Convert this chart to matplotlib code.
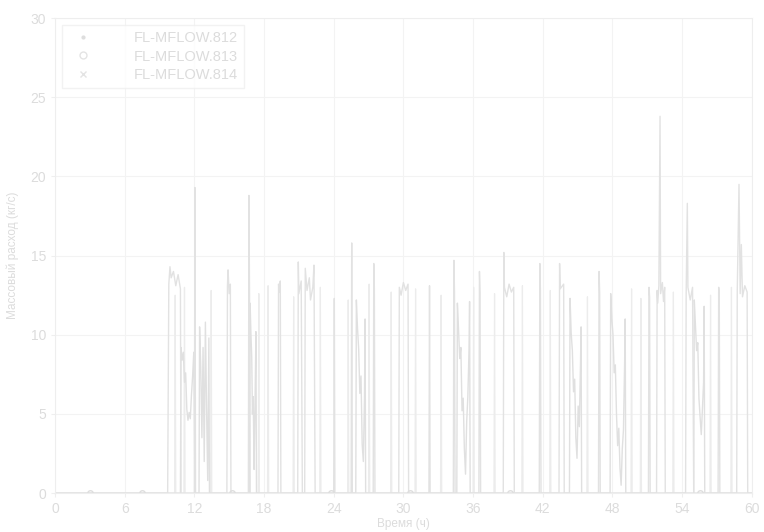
import numpy as np
import matplotlib
matplotlib.use("Agg")
import matplotlib.pyplot as plt
from matplotlib.lines import Line2D

plt.rcParams['font.family'] = ['Liberation Sans', 'DejaVu Sans']

# FL-MFLOW.812: основные партии, плато ~13 кг/с
t812 = [0, 3.0, 6.0, 9.7, 9.8, 9.9, 10.0, 10.2, 10.4, 10.6, 10.8, 10.85,
        12.0, 12.05, 12.1, 14.8, 14.85, 14.9, 15.0, 15.1, 15.15,
        16.65, 16.7, 16.75, 16.8, 19.2, 19.25, 19.3, 19.4, 19.45,
        20.9, 20.95, 21.0, 21.2, 21.3, 21.5, 21.55, 21.7, 21.9, 22.0, 22.2, 22.3, 22.4,
        24.0, 24.05, 24.1, 25.5, 25.55, 25.6, 27.4, 27.45, 27.5, 27.55,
        29.6, 29.65, 29.8, 30.0, 30.2, 30.4, 30.45, 32.2, 32.25, 32.3,
        34.3, 34.35, 34.4, 34.45, 36.5, 36.55, 36.6, 36.65,
        38.6, 38.65, 38.7, 38.9, 39.1, 39.3, 39.5, 39.55,
        41.7, 41.75, 41.8, 41.85, 43.4, 43.45, 43.5, 43.8, 43.85,
        46.8, 46.85, 46.9, 46.95, 51.1, 51.15, 51.2, 51.25,
        51.8, 51.85, 51.9, 52.0, 52.1, 52.15, 52.3, 52.4, 52.5, 52.55,
        54.3, 54.35, 54.45, 54.5, 54.7, 54.9, 55.0, 57.1, 57.15, 57.2, 57.25,
        58.7, 58.75, 58.9, 59.0, 59.1, 59.2, 59.4, 59.6, 59.65, 60]
v812 = [0, 0, 0, 0, 13.2, 14.3, 13.6, 14.0, 13.1, 13.8, 12.9, 0,
        0, 19.3, 0, 0, 13.1, 14.1, 12.6, 13.2, 0,
        0, 18.8, 12.5, 0, 0, 13.2, 12.7, 13.4, 0,
        0, 14.6, 12.6, 13.4, 0, 0, 14.2, 12.8, 13.6, 12.2, 13.0, 14.4, 0,
        0, 12.3, 0, 0, 15.8, 0, 0, 14.5, 12.9, 0,
        0, 13.0, 12.5, 13.3, 12.8, 13.2, 0, 0, 13.1, 0,
        0, 14.7, 12.7, 0, 0, 14.0, 12.6, 0,
        0, 15.2, 13.0, 12.4, 13.2, 12.7, 13.0, 0,
        0, 14.5, 12.8, 0, 0, 14.5, 12.9, 13.2, 0,
        0, 14.0, 12.6, 0, 0, 13.0, 12.4, 0,
        0, 12.8, 12.0, 13.1, 23.8, 12.6, 13.3, 12.1, 13.0, 0,
        0, 12.6, 18.3, 13.0, 12.2, 13.0, 0, 0, 13.0, 12.5, 0,
        0, 12.8, 19.5, 12.6, 15.7, 12.4, 13.1, 12.7, 0, 0]

# FL-MFLOW.813: партии со спадом расхода
t813 = [0, 7.5, 10.8, 10.85, 10.95, 11.05, 11.15, 11.25, 11.35, 11.45, 11.55, 11.65,
        11.75, 11.85, 11.95, 12.05,
        12.4, 12.45, 12.55, 12.65, 12.75, 12.85, 12.95, 13.05, 13.15, 13.25, 13.3,
        16.75, 16.8, 16.87, 16.94, 17.0, 17.07, 17.14, 17.2, 17.27, 17.3, 17.35,
        23.8, 25.9, 25.95, 26.05, 26.15, 26.25, 26.35, 26.45, 26.55, 26.65, 26.7, 26.75,
        30.6, 34.6, 34.65, 34.75, 34.85, 34.95, 35.05, 35.15, 35.25, 35.35, 35.45,
        35.55, 35.65, 35.7, 35.75,
        39.2, 44.3, 44.35, 44.45, 44.55, 44.65, 44.75, 44.85, 44.95, 45.05, 45.15,
        45.25, 45.3, 45.35,
        47.8, 47.85, 47.95, 48.05, 48.15, 48.25, 48.35, 48.45, 48.55, 48.65, 48.75,
        48.85, 48.95, 49.05, 49.1, 49.15,
        55.0, 55.05, 55.15, 55.25, 55.35, 55.45, 55.55, 55.65, 55.75, 55.85, 55.9, 55.95, 60]
v813 = [0, 0, 0, 9.2, 8.4, 8.9, 7.0, 7.6, 5.3, 4.6, 5.1, 4.7,
        6.2, 7.4, 8.9, 0,
        0, 10.5, 8.0, 3.5, 9.2, 2.0, 10.8, 5.4, 0.8, 9.8, 0,
        0, 12.0, 10.1, 8.6, 5.0, 6.1, 1.5, 4.4, 8.2, 10.2, 0,
        0, 0, 12.2, 10.4, 9.1, 6.3, 7.4, 3.1, 2.0, 6.0, 11.0, 0,
        0, 0, 12.0, 10.3, 8.5, 9.2, 5.2, 6.0, 2.8, 1.2, 4.5,
        6.1, 9.0, 12.1, 0,
        0, 0, 12.3, 10.1, 9.0, 6.4, 7.2, 3.5, 2.2, 5.5, 4.2,
        8.1, 10.5, 0,
        0, 12.6, 11.0, 10.0, 7.6, 8.1, 5.0, 3.0, 4.1, 1.6, 0.5,
        2.8, 4.0, 8.2, 11.0, 0,
        0, 12.2, 10.6, 9.0, 9.5, 6.0, 4.8, 3.7, 5.3, 7.0, 11.8, 0, 0]

# FL-MFLOW.814: короткие импульсы
t814 = [0, 10.3, 10.35, 10.4, 11.1, 11.15, 11.2, 13.4, 13.45, 13.5,
        17.5, 17.55, 17.6, 18.3, 18.35, 18.4, 20.5, 20.55, 20.6,
        22.8, 22.85, 22.9, 25.2, 25.25, 25.3, 27.0, 27.05, 27.1,
        28.9, 28.95, 29.0, 31.0, 31.05, 31.1, 33.2, 33.25, 33.3,
        36.0, 36.05, 36.1, 37.8, 37.85, 37.9, 40.2, 40.25, 40.3,
        42.6, 42.65, 42.7, 45.8, 45.85, 45.9, 49.6, 49.65, 49.7,
        50.4, 50.45, 50.5, 53.2, 53.25, 53.3, 56.4, 56.45, 56.5,
        58.2, 58.25, 58.3, 60]
v814 = [0, 0, 12.5, 0, 0, 13.0, 0, 0, 12.8, 0,
        0, 12.6, 0, 0, 13.1, 0, 0, 12.4, 0,
        0, 13.0, 0, 0, 12.2, 0, 0, 13.2, 0,
        0, 12.7, 0, 0, 12.9, 0, 0, 12.5, 0,
        0, 13.0, 0, 0, 12.6, 0, 0, 13.1, 0,
        0, 12.8, 0, 0, 12.4, 0, 0, 12.9, 0,
        0, 12.3, 0, 0, 12.7, 0, 0, 12.5, 0,
        0, 13.0, 0, 0]

# нулевые отсчёты, отмеченные кружками
t_zero = [3.0, 7.5, 15.2, 23.8, 30.6, 39.2, 55.5]

labels = ['FL-MFLOW.812', 'FL-MFLOW.813', 'FL-MFLOW.814']
xticks = [0, 6, 12, 18, 24, 30, 36, 42, 48, 54, 60]
yticks = [0, 5, 10, 15, 20, 25, 30]

txt = '#dcdcdc'
fig = plt.figure(figsize=(7.64, 5.32), dpi=100)
ax = fig.add_axes([0.072, 0.073, 0.912, 0.893])

ax.plot(t814, v814, color='#ececec', lw=0.9)
ax.plot(t813, v813, color='#e0e0e0', lw=1.0)
ax.plot(t812, v812, color='#e2e2e2', lw=1.0)

ax.plot(t_zero, [0] * len(t_zero), 'o', ms=4, mfc='none', mec='#dedede', mew=1.0)

ax.set_xlim(0, 60)
ax.set_ylim(0, 30)
ax.set_xticks(xticks)
ax.set_yticks(yticks)
ax.grid(True, color='#f3f3f3', lw=0.8)
ax.tick_params(colors='#efefef', labelcolor=txt, labelsize=10, length=3)
for s in ax.spines.values():
    s.set_color('#eeeeee')
ax.set_xlabel('Время (ч)', color=txt, fontsize=8.5, labelpad=1)
ax.set_ylabel('Массовый расход (кг/с)', color=txt, fontsize=8.5, labelpad=8)

handles = [Line2D([], [], ls='none', marker='.', ms=4, color='#dedede'),
           Line2D([], [], ls='none', marker='o', ms=5, mfc='none', mec='#e4e4e4'),
           Line2D([], [], ls='none', marker='x', ms=4, color='#e4e4e4')]
leg = ax.legend(handles, labels, loc='upper left', fontsize=10.5, frameon=True,
                fancybox=False, edgecolor='#efefef', labelcolor=txt,
                handletextpad=2.5, borderaxespad=0.5, labelspacing=0.3)

fig.savefig('out.png', dpi=100)
